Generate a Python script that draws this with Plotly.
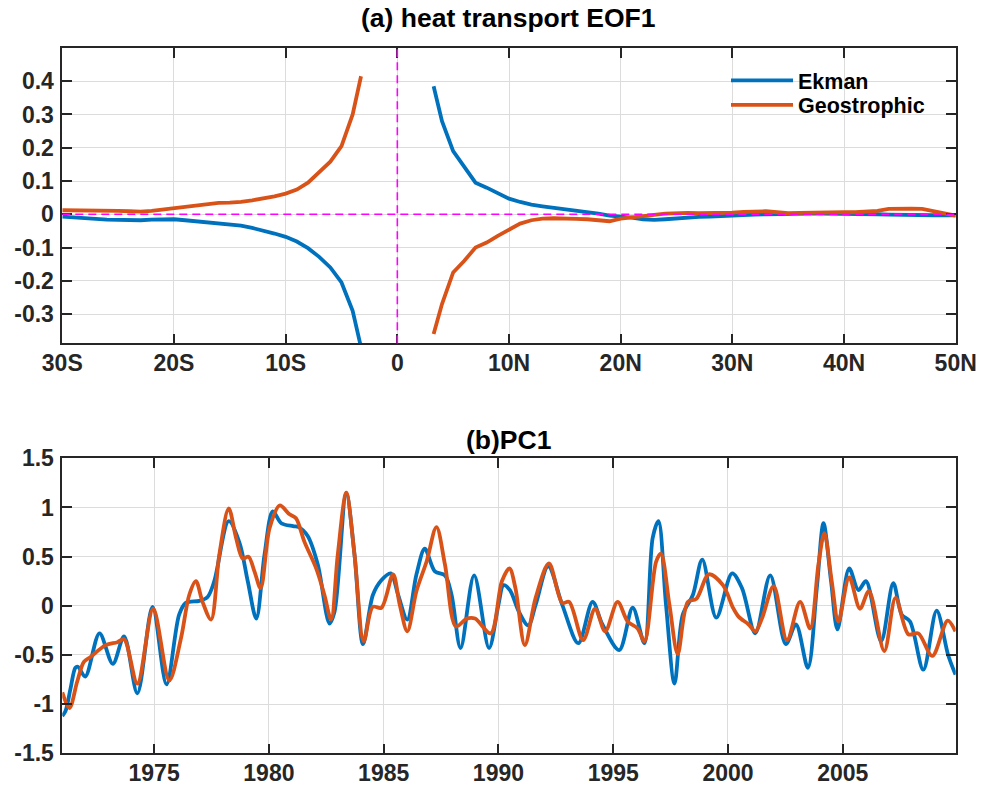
import plotly.graph_objects as go

# ---- (a) heat transport EOF1: latitude profiles ----
lat_south = [-30, -29, -28, -27, -26, -25, -24, -23, -22, -21, -20, -19, -18, -17,
             -16, -15, -14, -13, -12, -11, -10, -9, -8, -7, -6, -5, -4, -3.25]
ekman_south = [-0.007, -0.010, -0.012, -0.014, -0.016, -0.017, -0.018, -0.018, -0.016,
               -0.015, -0.015, -0.018, -0.021, -0.023, -0.026, -0.029, -0.034, -0.041,
               -0.049, -0.058, -0.068, -0.082, -0.102, -0.128, -0.160, -0.205, -0.290, -0.400]
geo_south = [0.012, 0.012, 0.012, 0.011, 0.011, 0.010, 0.009, 0.008, 0.010, 0.014,
             0.018, 0.023, 0.028, 0.032, 0.034, 0.035, 0.037, 0.042, 0.047, 0.054,
             0.062, 0.074, 0.095, 0.125, 0.158, 0.205, 0.300, 0.415]

lat_north = [3.25, 4, 5, 6, 7, 8, 9, 10, 11, 12, 13, 14, 15, 16, 17, 18, 19, 20, 21, 22,
             23, 24, 25, 26, 27, 28, 29, 30, 31, 32, 33, 34, 35, 36, 37, 38, 39, 40, 41,
             42, 43, 44, 45, 46, 47, 48, 49, 50]
ekman_north = [0.385, 0.280, 0.190, 0.140, 0.095, 0.080, 0.062, 0.047, 0.037, 0.029,
               0.024, 0.020, 0.016, 0.011, 0.007, 0.002, -0.004, -0.006, -0.010, -0.015,
               -0.017, -0.015, -0.012, -0.010, -0.008, -0.007, -0.005, -0.004, -0.002,
               -0.001, 0.000, 0.001, 0.001, 0.001, 0.002, 0.002, 0.002, 0.002, 0.002,
               0.001, 0.000, -0.001, -0.002, -0.003, -0.003, -0.003, -0.003, -0.003]
geo_north = [-0.360, -0.270, -0.175, -0.140, -0.100, -0.085, -0.065, -0.045, -0.028,
             -0.018, -0.013, -0.012, -0.014, -0.014, -0.015, -0.019, -0.021, -0.013,
             -0.010, -0.006, -0.002, 0.002, 0.004, 0.004, 0.003, 0.003, 0.003, 0.005,
             0.007, 0.009, 0.009, 0.006, 0.003, 0.004, 0.005, 0.005, 0.006, 0.006, 0.006,
             0.007, 0.010, 0.016, 0.017, 0.017, 0.016, 0.010, 0.004, -0.004]

lat_ticks = [-30, -20, -10, 0, 10, 20, 30, 40, 50]
lat_labels = ["30S", "20S", "10S", "0", "10N", "20N", "30N", "40N", "50N"]
eof_ticks = [-0.3, -0.2, -0.1, 0, 0.1, 0.2, 0.3, 0.4]
eof_labels = ["-0.3", "-0.2", "-0.1", "0", "0.1", "0.2", "0.3", "0.4"]

# ---- (b) PC1 time series ----
ek_year = [1971.00, 1971.14, 1971.36, 1971.57, 1971.68, 1972.00, 1972.62, 1973.20, 1973.69,
           1974.27, 1974.93, 1975.54, 1976.09, 1976.38, 1976.97, 1977.33, 1977.62, 1978.25,
           1978.72, 1979.08, 1979.45, 1979.81, 1980.17, 1980.54, 1981.05, 1981.30, 1981.69,
           1982.13, 1982.64, 1982.86, 1983.37, 1983.73, 1984.10, 1984.53, 1984.90, 1985.31,
           1985.63, 1986.03, 1986.43, 1986.79, 1987.23, 1987.67, 1987.96, 1988.35, 1988.94,
           1989.59, 1990.00, 1990.22, 1990.50, 1990.89, 1991.30, 1991.62, 1992.17, 1992.78,
           1993.48, 1994.10, 1994.53, 1995.26, 1995.85, 1996.36, 1996.72, 1996.97, 1997.30,
           1997.67, 1998.03, 1998.47, 1998.88, 1999.49, 2000.18, 2000.61, 2001.19, 2001.84,
           2002.52, 2002.96, 2003.48, 2003.87, 2004.16, 2004.49, 2004.77, 2005.28, 2005.68,
           2006.01, 2006.67, 2007.20, 2007.57, 2007.93, 2008.51, 2009.09, 2009.59, 2009.91]
ek_pc = [-1.12, -1.07, -0.84, -0.63, -0.62, -0.72, -0.28, -0.59, -0.31,
         -0.89, -0.01, -0.80, -0.09, 0.03, 0.05, 0.09, 0.25, 0.86,
         0.64, 0.25, -0.13, 0.52, 0.96, 0.84, 0.81, 0.80, 0.71,
         0.42, -0.18, -0.06, 1.14, 0.52, -0.39, 0.11, 0.26, 0.33,
         0.11, -0.14, 0.32, 0.58, 0.35, 0.31, 0.11, -0.43, 0.31,
         -0.43, 0.01, 0.21, 0.16, -0.06, -0.20, 0.01, 0.40, 0.01,
         -0.38, 0.04, -0.19, -0.45, -0.02, -0.38, 0.69, 0.86, 0.01,
         -0.79, -0.09, 0.11, 0.47, -0.12, 0.33, 0.18, -0.28, 0.31,
         -0.39, -0.19, -0.63, 0.18, 0.84, 0.25, -0.24, 0.38, 0.16,
         0.25, -0.36, 0.23, -0.09, -0.16, -0.65, -0.05, -0.50, -0.70]

geo_year = [1971.00, 1971.31, 1971.65, 1971.94, 1972.23, 1972.89, 1973.40, 1973.69, 1974.27,
            1974.96, 1975.66, 1976.17, 1976.53, 1976.82, 1977.11, 1977.48, 1977.84, 1978.25,
            1978.57, 1978.86, 1979.11, 1979.37, 1979.64, 1980.03, 1980.47, 1980.90, 1981.18,
            1981.55, 1982.06, 1982.42, 1982.71, 1983.00, 1983.37, 1983.73, 1984.13, 1984.53,
            1984.90, 1985.41, 1985.70, 1986.03, 1986.43, 1986.87, 1987.30, 1987.67, 1988.15,
            1988.62, 1988.98, 1989.66, 1990.15, 1990.48, 1990.74, 1991.15, 1991.62, 1992.20,
            1992.78, 1993.08, 1993.69, 1994.21, 1994.65, 1995.19, 1995.63, 1996.06, 1996.36,
            1996.87, 1997.08, 1997.45, 1997.81, 1998.25, 1998.62, 1999.17, 1999.78, 2000.22,
            2000.46, 2000.90, 2001.19, 2001.48, 2001.99, 2002.57, 2003.14, 2003.58, 2003.94,
            2004.20, 2004.52, 2004.81, 2005.28, 2005.75, 2006.14, 2006.81, 2007.30, 2007.86,
            2008.29, 2008.90, 2009.57, 2009.91]
geo_pc = [-0.88, -1.04, -0.77, -0.57, -0.52, -0.40, -0.37, -0.34, -0.79,
          -0.03, -0.76, -0.33, 0.11, 0.25, 0.04, -0.14, 0.52, 0.99,
          0.69, 0.48, 0.50, 0.35, 0.18, 0.79, 1.02, 0.93, 0.89,
          0.65, 0.38, 0.11, -0.14, 0.52, 1.15, 0.52, -0.36, -0.01,
          -0.02, 0.32, 0.01, -0.26, 0.15, 0.45, 0.80, 0.42, -0.21,
          -0.13, -0.13, -0.28, 0.25, 0.38, 0.18, -0.40, 0.08, 0.43,
          0.03, 0.04, -0.35, -0.03, -0.26, 0.04, -0.16, -0.23, -0.36,
          0.45, 0.53, 0.01, -0.49, 0.04, 0.07, 0.32, 0.21, -0.02,
          -0.11, -0.19, -0.26, -0.13, 0.20, -0.35, 0.04, -0.23, 0.42,
          0.74, 0.25, -0.16, 0.29, -0.03, 0.15, -0.46, 0.08, -0.29,
          -0.28, -0.51, -0.15, -0.26]

year_ticks = [1975, 1980, 1985, 1990, 1995, 2000, 2005]
year_labels = ["1975", "1980", "1985", "1990", "1995", "2000", "2005"]
pc_ticks = [-1.5, -1, -0.5, 0, 0.5, 1, 1.5]
pc_labels = ["-1.5", "-1", "-0.5", "0", "0.5", "1", "1.5"]

BLUE = "#0072BD"
ORANGE = "#D95319"
INK = "#262626"
GRID = "#dcdcdc"
FONT = "Liberation Sans, Arial, Helvetica, sans-serif"
LW = 3.8

# panel placement in paper coordinates (figure is 982 x 789 px)
X_DOM = [62.3 / 982, 955.7 / 982]
TOP_DOM = [1 - 343.3 / 789, 1 - 48.3 / 789]
BOT_DOM = [1 - 753.3 / 789, 1 - 458.3 / 789]

fig = go.Figure()

# top panel curves
fig.add_trace(go.Scatter(x=lat_south, y=ekman_south, mode="lines", name="Ekman",
                         line=dict(color=BLUE, width=LW), legend="legend",
                         xaxis="x", yaxis="y"))
fig.add_trace(go.Scatter(x=lat_north, y=ekman_north, mode="lines", name="Ekman",
                         line=dict(color=BLUE, width=LW), showlegend=False,
                         xaxis="x", yaxis="y"))
fig.add_trace(go.Scatter(x=lat_south, y=geo_south, mode="lines", name="Geostrophic",
                         line=dict(color=ORANGE, width=LW), legend="legend2",
                         xaxis="x", yaxis="y"))
fig.add_trace(go.Scatter(x=lat_north, y=geo_north, mode="lines", name="Geostrophic",
                         line=dict(color=ORANGE, width=LW), showlegend=False,
                         xaxis="x", yaxis="y"))

# bottom panel curves
fig.add_trace(go.Scatter(x=ek_year, y=ek_pc, mode="lines", name="Ekman",
                         line=dict(color=BLUE, width=LW, shape="spline", smoothing=0.9),
                         showlegend=False, xaxis="x2", yaxis="y2"))
fig.add_trace(go.Scatter(x=geo_year, y=geo_pc, mode="lines", name="Geostrophic",
                         line=dict(color=ORANGE, width=LW, shape="spline", smoothing=0.9),
                         showlegend=False, xaxis="x2", yaxis="y2"))

# magenta reference lines through the origin of panel (a)
ref_dash = dict(color="#FF00FF", width=1.6, dash="8px,5px")
fig.add_shape(type="line", xref="x", yref="paper", x0=0, x1=0,
              y0=TOP_DOM[0], y1=TOP_DOM[1], line=ref_dash, layer="above")
fig.add_shape(type="line", xref="paper", yref="y", x0=X_DOM[0], x1=X_DOM[1],
              y0=0, y1=0, line=ref_dash, layer="above")

tickfont = dict(family=FONT, size=23, color=INK, weight="bold")
common = dict(showline=True, linecolor=INK, linewidth=1.6, mirror="ticks",
              ticks="inside", ticklen=10, tickwidth=1.6, tickcolor=INK,
              showgrid=True, gridcolor=GRID, gridwidth=1.2, zeroline=False,
              tickfont=tickfont, automargin=False)
xcommon = dict(common, ticklabelstandoff=-2)
ycommon = dict(common, ticklabelstandoff=2)

legend_font = dict(family=FONT, size=21.5, color="black", weight="bold")
legend_common = dict(xanchor="left", yanchor="middle", bgcolor="rgba(0,0,0,0)",
                     borderwidth=0, itemwidth=62, font=legend_font)

fig.update_layout(
    template="none",
    width=982, height=789,
    margin=dict(l=0, r=0, t=0, b=0, autoexpand=False),
    paper_bgcolor="white", plot_bgcolor="white",
    xaxis=dict(domain=X_DOM, range=[-30, 50], anchor="y",
               tickvals=lat_ticks, ticktext=lat_labels, **xcommon),
    yaxis=dict(domain=TOP_DOM, range=[-0.388, 0.499], anchor="x",
               tickvals=eof_ticks, ticktext=eof_labels, **ycommon),
    xaxis2=dict(domain=X_DOM, range=[1971.0, 2009.92], anchor="y2",
                tickvals=year_ticks, ticktext=year_labels, **xcommon),
    yaxis2=dict(domain=BOT_DOM, range=[-1.5, 1.5], anchor="x2",
                tickvals=pc_ticks, ticktext=pc_labels, **ycommon),
    legend=dict(x=726 / 982, y=1 - 80.3 / 789, **legend_common),
    legend2=dict(x=726 / 982, y=1 - 104.8 / 789, **legend_common),
    showlegend=True,
    annotations=[
        dict(text="(a) heat transport EOF1", xref="paper", yref="paper",
             x=0.5183, y=1 - 18 / 789, xanchor="center", yanchor="middle",
             showarrow=False,
             font=dict(family=FONT, size=26.5, color="black", weight="bold")),
        dict(text="(b)PC1", xref="paper", yref="paper",
             x=0.5183, y=1 - 440 / 789, xanchor="center", yanchor="middle",
             showarrow=False,
             font=dict(family=FONT, size=26.5, color="black", weight="bold")),
    ],
)

fig.write_html("out.html")
